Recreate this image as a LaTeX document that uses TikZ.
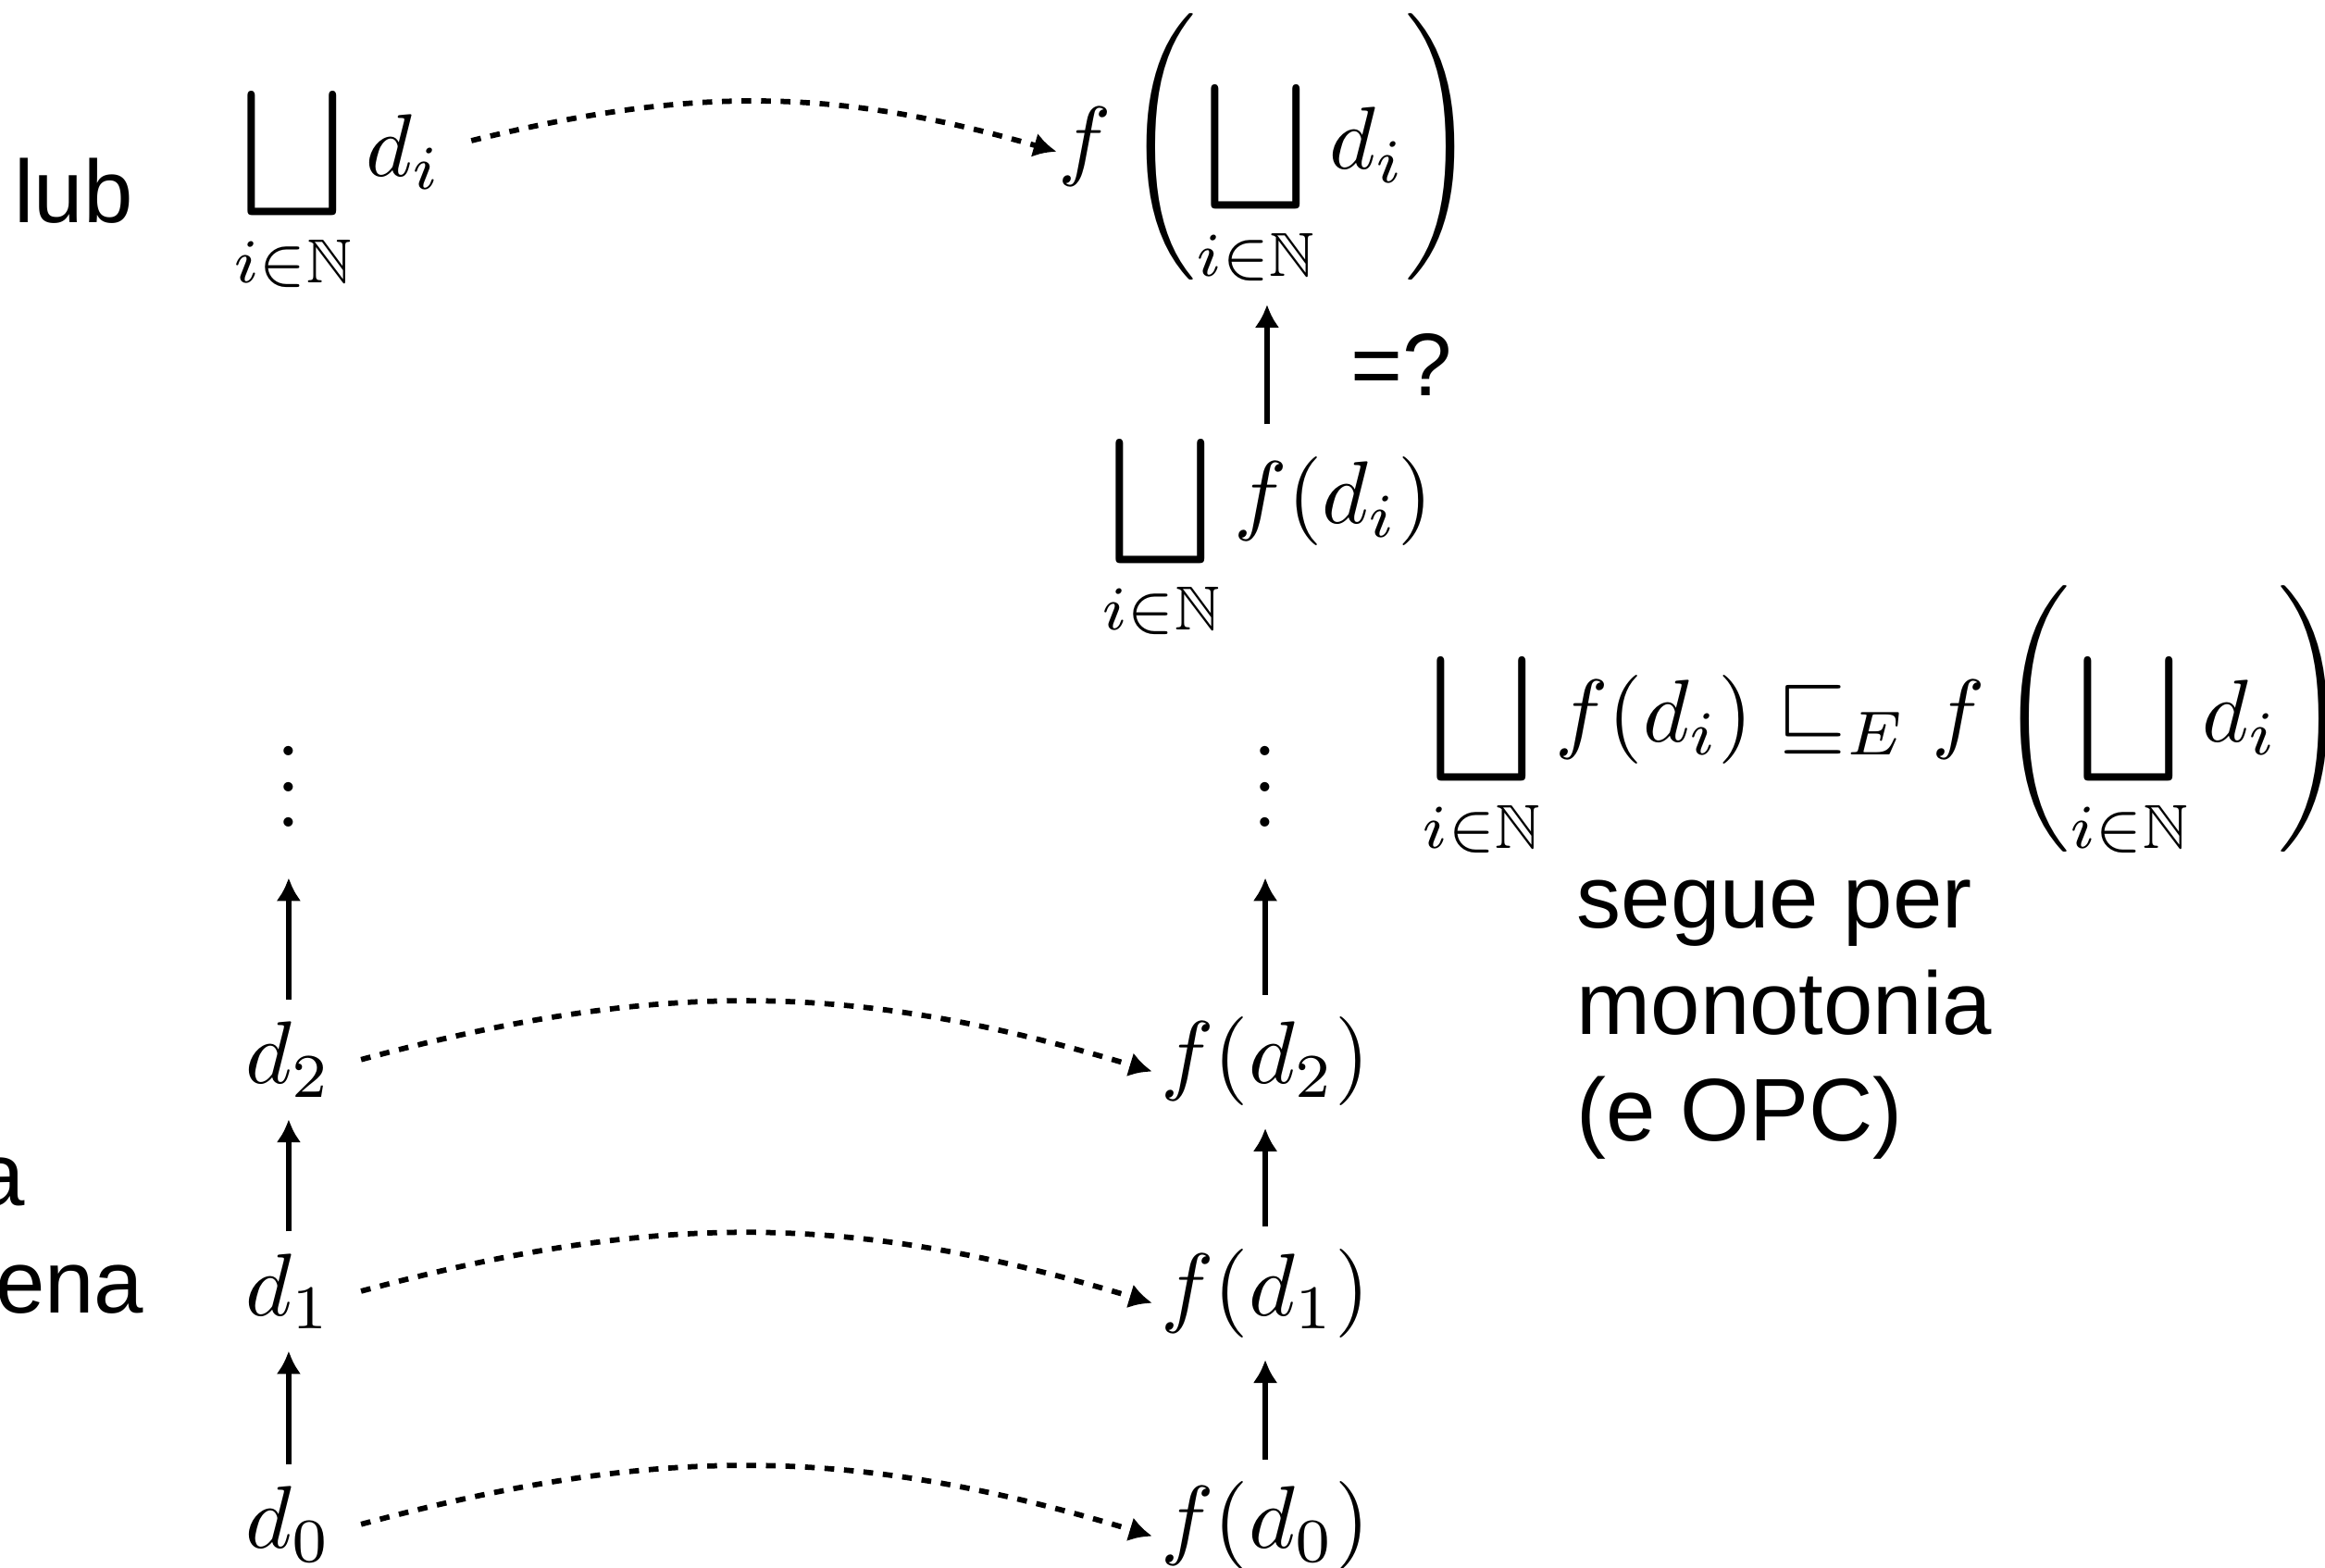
\documentclass[tikz,border=0pt]{standalone}
\usepackage{amsmath,amssymb}
\usepackage{fontspec}
\newfontfamily\helv{Liberation Sans}
\usetikzlibrary{arrows.meta}
\tikzset{chainarrow/.style={-{Latex[length=2.6pt,width=2.8pt]}, line width=.6pt}, maparrow/.style={-{Latex[length=2.6pt,width=2.8pt]}, line width=.6pt, dash pattern=on 1.1pt off 1.1pt}, elem/.style={inner xsep=3.1pt, inner ysep=2.3pt, anchor=base}, felem/.style={elem, inner xsep=.8pt}, vdot/.style={inner sep=5.5pt, anchor=base}, lab/.style={font=\helv, inner sep=0pt, anchor=base west}}

\begin{document}
\begin{tikzpicture}
\useasboundingbox (0,0) rectangle (9.197,6.202);
% left column: the chain d_0, d_1, d_2, ...
\node[lab] (lub) at (.05,5.323) {lub};
\node[lab, align=left] (catena) at (-.494,1.010) {una\\catena};
\node[elem] (lubd) at (1.336,5.506) {$\displaystyle\bigsqcup_{i\in\mathbb{N}} d_i$};
\node[vdot] (dotsl) at (1.142,2.93) {$\vdots$};
\node[elem] (d2) at (1.142,1.915) {$d_2$};
\node[elem] (d1) at (1.142,.999) {$d_1$};
\node[elem] (d0) at (1.142,.077) {$d_0$};
% right column: the images under f
\node[elem, inner xsep=0pt, inner ysep=1.5pt] (flub) at (5.012,5.532) {$\displaystyle f\left(\bigsqcup_{i\in\mathbb{N}} d_i\right)$};
\node[elem, inner ysep=.5pt] (lubf) at (5.012,4.130) {$\displaystyle\bigsqcup_{i\in\mathbb{N}} f(d_i)$};
\node[lab] (eq) at (5.338,4.635) {=?};
\node[vdot] (dotsr) at (5.005,2.93) {$\vdots$};
\node[felem] (fd2) at (5.005,1.915) {$f(d_2)$};
\node[felem] (fd1) at (5.005,.999) {$f(d_1)$};
\node[felem] (fd0) at (5.005,.077) {$f(d_0)$};
\node[anchor=base west, inner sep=0pt] (ineq) at (5.620,3.269) {$\displaystyle\bigsqcup_{i\in\mathbb{N}} f(d_i) \sqsubseteq_E f\left(\bigsqcup_{i\in\mathbb{N}} d_i\right)$};
\node[lab, align=left] (why) at (6.231,1.688) {segue per\\monotonia\\(e OPC)};
% order along the chains
\draw[chainarrow] (d0) -- (d1); \draw[chainarrow] (d1) -- (d2); \draw[chainarrow] (d2) -- (dotsl);
\draw[chainarrow] (fd0) -- (fd1); \draw[chainarrow] (fd1) -- (fd2); \draw[chainarrow] (fd2) -- (dotsr);
\draw[chainarrow] (lubf) -- (flub);
% f maps each element
\draw[maparrow] (d0.east) to[bend left=16] (fd0.185);
\draw[maparrow] (d1.east) to[bend left=16] (fd1.185);
\draw[maparrow] (d2.east) to[bend left=16] (fd2.185);
\draw[maparrow] (lubd.20) to[bend left=15] (flub.west);
\end{tikzpicture}
\end{document}
